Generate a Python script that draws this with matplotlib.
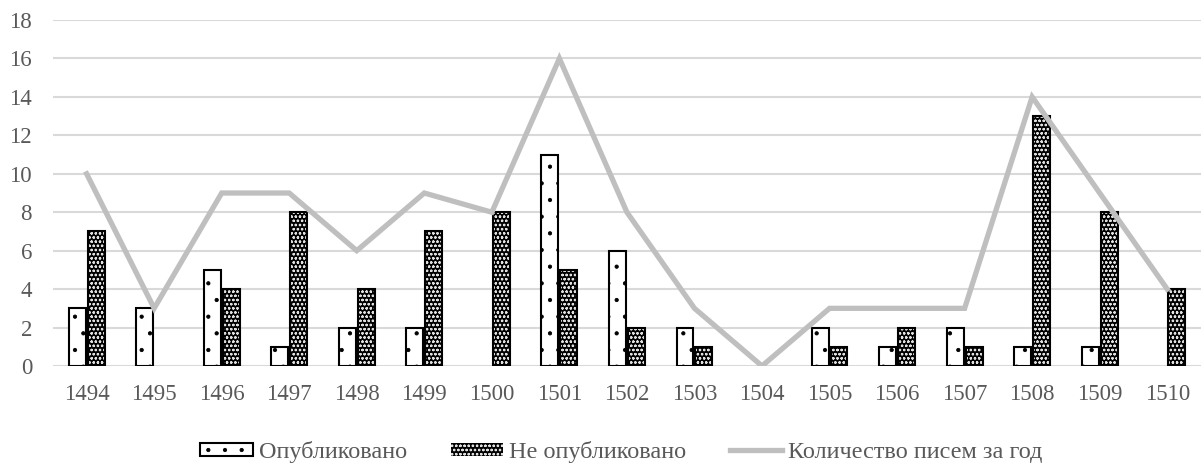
import numpy as np
import matplotlib.pyplot as plt
from matplotlib.patches import Patch
from matplotlib.lines import Line2D

plt.rcParams['font.family'] = ['Liberation Serif', 'DejaVu Serif']
plt.rcParams['hatch.linewidth'] = 0.6

years = ['1494', '1495', '1496', '1497', '1498', '1499', '1500', '1501', '1502',
         '1503', '1504', '1505', '1506', '1507', '1508', '1509', '1510']
published = [3, 3, 5, 1, 2, 2, 0, 11, 6, 2, 0, 2, 1, 2, 1, 1, 0]
not_published = [7, 0, 4, 8, 4, 7, 8, 5, 2, 1, 0, 1, 2, 1, 13, 8, 4]
total = [10, 3, 9, 9, 6, 9, 8, 16, 8, 3, 0, 3, 3, 3, 14, 9, 4]

label_pub = 'Опубликовано'
label_not = 'Не опубликовано'
label_total = 'Количество писем за год'

grid_col = '#d9d9d9'
text_col = '#595959'
line_col = '#bfbfbf'

fig = plt.figure(figsize=(12.01, 4.66), dpi=100)
ax = fig.add_axes([0.044, 0.2146, 0.956, 0.7424])

x = np.arange(len(years))
pub = np.array(published, dtype=float)
npub = np.array(not_published, dtype=float)
w = 0.25
gap = 0.015

# zero values draw no bar at all
mp = pub > 0
mn = npub > 0

# published: white with sparse dots
ax.bar(x[mp] - w / 2 - gap, pub[mp], w, color='white', edgecolor='black',
       hatch='.', linewidth=1.5, zorder=3)

# not published: black with white pattern, then black outline on top
ax.bar(x[mn] + w / 2 + gap, npub[mn], w, color='black', edgecolor='#e0e0e0',
       hatch='oooo', linewidth=0, zorder=3)
ax.bar(x[mn] + w / 2 + gap, npub[mn], w, color='none', edgecolor='black',
       linewidth=1.5, zorder=4)

ax.plot(x, total, color=line_col, linewidth=3.8, zorder=5,
        solid_joinstyle='miter')

ax.set_xlim(-0.5, len(years) - 0.5)
ax.set_ylim(0, 18)
ax.set_yticks(range(0, 19, 2))
ax.set_xticks(x)
ax.set_xticklabels(years)
ax.yaxis.grid(True, color=grid_col, linewidth=1.5, zorder=0)
ax.set_axisbelow(True)
for s in ax.spines.values():
    s.set_visible(False)
ax.tick_params(axis='both', length=0, labelsize=16.5, colors=text_col)
ax.tick_params(axis='x', pad=13)
ax.tick_params(axis='y', pad=15)

h1 = Patch(facecolor='white', edgecolor='black', hatch='.', linewidth=1.5)
h2 = Patch(facecolor='black', edgecolor='#e0e0e0', hatch='oooo', linewidth=0)
h3 = Line2D([0], [0], color=line_col, linewidth=3.8)
leg = fig.legend([h1, h2, h3], [label_pub, label_not, label_total],
                 loc='center', bbox_to_anchor=(0.5175, 0.03), ncol=3,
                 frameon=False, fontsize=17.5, handlelength=2.15,
                 handleheight=0.45, handletextpad=0.25, columnspacing=1.8,
                 borderpad=0, borderaxespad=0)
for t in leg.get_texts():
    t.set_color(text_col)

fig.savefig('out.png', dpi=100)
